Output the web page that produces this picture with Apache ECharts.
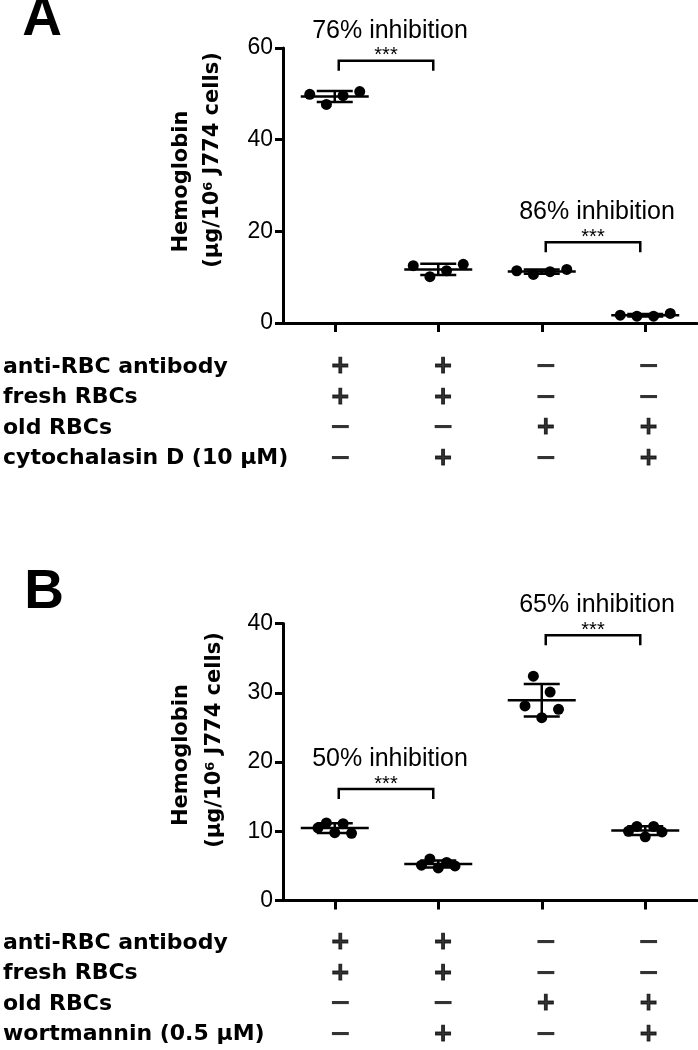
<!DOCTYPE html>
<html>
<head>
<meta charset="utf-8">
<script src="https://cdn.jsdelivr.net/npm/echarts@6.0.0/dist/echarts.min.js"></script>
<style>
  html, body { margin: 0; padding: 0; background: #fff; }
  #main { width: 698px; height: 1050px; }
</style>
</head>
<body>
<div id="main"></div>
<script>
// groups (x categories), same for both panels
var groups = ['fresh', 'fresh + inhibitor', 'old', 'old + inhibitor'];

// hemoglobin per replicate, panel A (cytochalasin D)
var hbA = [
  [49.9, 47.7, 49.6, 50.5],
  [12.5, 10.1, 11.4, 12.8],
  [11.4, 10.6, 11.2, 11.7],
  [1.7, 1.5, 1.5, 2.1]
];
// panel B (wortmannin)
var hbB = [
  [10.5, 11.2, 9.8, 11.1, 9.7],
  [5.1, 6.0, 4.7, 5.5, 5.0],
  [28.1, 32.4, 26.4, 30.1, 27.6],
  [10.0, 10.7, 9.2, 10.7, 9.9]
];

var rowsA = ['anti-RBC antibody', 'fresh RBCs', 'old RBCs', 'cytochalasin D (10 μM)'];
var rowsB = ['anti-RBC antibody', 'fresh RBCs', 'old RBCs', 'wortmannin (0.5 μM)'];
var signsA = [
  ['+', '+', '−', '−'],
  ['+', '+', '−', '−'],
  ['−', '−', '+', '+'],
  ['−', '+', '−', '+']
];
var signsB = [
  ['+', '+', '−', '−'],
  ['+', '+', '−', '−'],
  ['−', '−', '+', '+'],
  ['−', '+', '−', '+']
];

// significance brackets: [from group, to group, height]
var bracketsA = [[0, 1, 57.2], [2, 3, 17.6]];
var bracketTextA = ['76% inhibition', '86% inhibition'];
var bracketsB = [[0, 1, 16.1], [2, 3, 38.3]];
var bracketTextB = ['50% inhibition', '65% inhibition'];

var yMaxA = 60, yStepA = 20;
var yMaxB = 40, yStepB = 10;

// ---- style
var PLOT_LEFT = 283, PLOT_W = 414;
var BOLD_FONT = 'DejaVu Sans';
var REG_FONT = 'Liberation Sans, Arial, sans-serif';
var MEAN_HALF = 34, CAP_HALF = 18, LW = 2.5;

function mean(a) {
  return a.reduce(function (s, v) { return s + v; }, 0) / a.length;
}
function sd(a) {
  var m = mean(a);
  return Math.sqrt(a.reduce(function (s, v) { return s + (v - m) * (v - m); }, 0) / (a.length - 1));
}

// spread replicates sideways like a dot plot
function dots(groupsData, spread) {
  var out = [];
  groupsData.forEach(function (vals, g) {
    vals.forEach(function (v, j) {
      out.push([g + (j - (vals.length - 1) / 2) * spread, v]);
    });
  });
  return out;
}
function stats(groupsData) {
  return groupsData.map(function (vals, g) { return [g, mean(vals), sd(vals)]; });
}
function signCells(signs) {
  var out = [];
  signs.forEach(function (row, r) {
    row.forEach(function (s, c) { out.push([c, r, s]); });
  });
  return out;
}

function meanSdItem(params, api) {
  var x = api.value(0), m = api.value(1), s = api.value(2);
  var c = api.coord([x, m]);
  var hi = api.coord([x, m + s]);
  var lo = api.coord([x, m - s]);
  var st = { stroke: '#000', lineWidth: LW };
  return {
    type: 'group',
    children: [
      { type: 'line', shape: { x1: c[0] - MEAN_HALF, y1: c[1], x2: c[0] + MEAN_HALF, y2: c[1] }, style: st },
      { type: 'line', shape: { x1: c[0], y1: hi[1], x2: c[0], y2: lo[1] }, style: st },
      { type: 'line', shape: { x1: c[0] - CAP_HALF, y1: hi[1], x2: c[0] + CAP_HALF, y2: hi[1] }, style: st },
      { type: 'line', shape: { x1: c[0] - CAP_HALF, y1: lo[1], x2: c[0] + CAP_HALF, y2: lo[1] }, style: st }
    ]
  };
}

function bracketRenderer(texts) {
  return function (params, api) {
    var p1 = api.coord([api.value(0), api.value(2)]);
    var p2 = api.coord([api.value(1), api.value(2)]);
    var xa = p1[0] + 4, xb = p2[0] - 5, y = p1[1];
    var mid = (xa + xb) / 2;
    return {
      type: 'group',
      children: [
        { type: 'polyline', shape: { points: [[xa, y + 10], [xa, y], [xb, y], [xb, y + 10]] },
          style: { stroke: '#000', lineWidth: LW, fill: null } },
        { type: 'text', style: { text: '***', x: mid, y: y - 5, align: 'center', verticalAlign: 'middle',
          fontSize: 20, fontFamily: REG_FONT, fill: '#000' } },
        { type: 'text', style: { text: texts[params.dataIndex], x: mid + 4, y: y - 30, align: 'center',
          verticalAlign: 'middle', fontSize: 25, fontFamily: REG_FONT, fill: '#000' } }
      ]
    };
  };
}

var myChart = echarts.init(document.getElementById('main'));

var catAxis = function (grid, show) {
  return {
    type: 'category', gridIndex: grid, data: groups, show: show,
    axisLine: { lineStyle: { color: '#000', width: 3 } },
    axisTick: { show: true, alignWithLabel: true, interval: 0, length: 9, lineStyle: { color: '#000', width: 3 } },
    axisLabel: { show: true, interval: 0, formatter: function () { return ''; } }
  };
};
var valX = function (grid) {
  return { type: 'value', gridIndex: grid, min: -0.5, max: 3.5, show: false };
};
var valY = function (grid, max, step) {
  return {
    type: 'value', gridIndex: grid, min: 0, max: max, interval: step,
    axisLine: { show: true, onZero: false, lineStyle: { color: '#000', width: 3 } },
    axisTick: { show: true, length: 8, lineStyle: { color: '#000', width: 3 } },
    axisLabel: { color: '#000', fontSize: 23, fontFamily: REG_FONT, margin: 10 },
    splitLine: { show: false }
  };
};
var rowAxis = function (grid, rows) {
  return {
    type: 'category', gridIndex: grid, data: rows, inverse: true,
    axisLine: { show: false }, axisTick: { show: false }, splitLine: { show: false },
    axisLabel: { interval: 0, align: 'left', margin: PLOT_LEFT, color: '#000',
      fontSize: 22, fontWeight: 'bold', fontFamily: BOLD_FONT }
  };
};
var signLabel = {
  show: true, position: 'inside', color: '#000', offset: [3, 0],
  formatter: function (p) { return p.value[2] === '+' ? '{p|+}' : '{m|−}'; },
  rich: {
    p: { fontSize: 24, fontWeight: 'bold', fontFamily: BOLD_FONT, color: '#000',
      textBorderColor: '#000', textBorderWidth: 1 },
    m: { fontSize: 27, fontWeight: 'bold', fontFamily: BOLD_FONT, color: '#000' }
  }
};
var yTitle = function (x1, y1, x2, y2) {
  return [
    { type: 'text', x: x1, y: y1, rotation: Math.PI / 2,
      style: { text: 'Hemoglobin', align: 'center', verticalAlign: 'middle',
        fontSize: 21, fontWeight: 'bold', fontFamily: BOLD_FONT, fill: '#000' } },
    { type: 'text', x: x2, y: y2, rotation: Math.PI / 2,
      style: { text: '{n|(μg/10}{s|6}{n| J774 cells)}', align: 'center', verticalAlign: 'middle', fill: '#000',
        rich: {
          n: { fontSize: 21, fontWeight: 'bold', fontFamily: BOLD_FONT, fill: '#000' },
          s: { fontSize: 13, fontWeight: 'bold', fontFamily: BOLD_FONT, fill: '#000', verticalAlign: 'top' }
        } } }
  ];
};

var option = {
  animation: false,
  backgroundColor: '#fff',
  grid: [
    { left: PLOT_LEFT, width: PLOT_W, top: 48, height: 275 },
    { left: PLOT_LEFT, width: PLOT_W, top: 623.5, height: 277 },
    { left: PLOT_LEFT, width: PLOT_W, top: 351.75, height: 122 },
    { left: PLOT_LEFT, width: PLOT_W, top: 927.75, height: 122 }
  ],
  xAxis: [
    catAxis(0, true), valX(0),
    catAxis(1, true), valX(1),
    catAxis(2, false), catAxis(3, false)
  ],
  yAxis: [
    valY(0, yMaxA, yStepA), valY(1, yMaxB, yStepB),
    rowAxis(2, rowsA), rowAxis(3, rowsB)
  ],
  graphic: [
    { type: 'text', x: 42, y: 20, style: { text: 'A', align: 'center', verticalAlign: 'middle',
      fontSize: 55, fontWeight: 'bold', fontFamily: REG_FONT, fill: '#000' } },
    { type: 'text', x: 44, y: 593, style: { text: 'B', align: 'center', verticalAlign: 'middle',
      fontSize: 55, fontWeight: 'bold', fontFamily: REG_FONT, fill: '#000' } }
  ].concat(yTitle(182, 181.5, 213, 160), yTitle(182, 755, 215, 740)),
  series: [
    { type: 'custom', xAxisIndex: 1, yAxisIndex: 0, data: stats(hbA), renderItem: meanSdItem, clip: false },
    { type: 'scatter', xAxisIndex: 1, yAxisIndex: 0, data: dots(hbA, 0.161), symbolSize: 11,
      itemStyle: { color: '#000', opacity: 1 } },
    { type: 'custom', xAxisIndex: 1, yAxisIndex: 0, data: bracketsA, renderItem: bracketRenderer(bracketTextA), clip: false },

    { type: 'custom', xAxisIndex: 3, yAxisIndex: 1, data: stats(hbB), renderItem: meanSdItem, clip: false },
    { type: 'scatter', xAxisIndex: 3, yAxisIndex: 1, data: dots(hbB, 0.081), symbolSize: 11,
      itemStyle: { color: '#000', opacity: 1 } },
    { type: 'custom', xAxisIndex: 3, yAxisIndex: 1, data: bracketsB, renderItem: bracketRenderer(bracketTextB), clip: false },

    { type: 'scatter', xAxisIndex: 4, yAxisIndex: 2, data: signCells(signsA), symbolSize: 1,
      itemStyle: { color: 'rgba(0,0,0,0)' }, label: signLabel },
    { type: 'scatter', xAxisIndex: 5, yAxisIndex: 3, data: signCells(signsB), symbolSize: 1,
      itemStyle: { color: 'rgba(0,0,0,0)' }, label: signLabel }
  ]
};

myChart.setOption(option);
</script>
</body>
</html>
